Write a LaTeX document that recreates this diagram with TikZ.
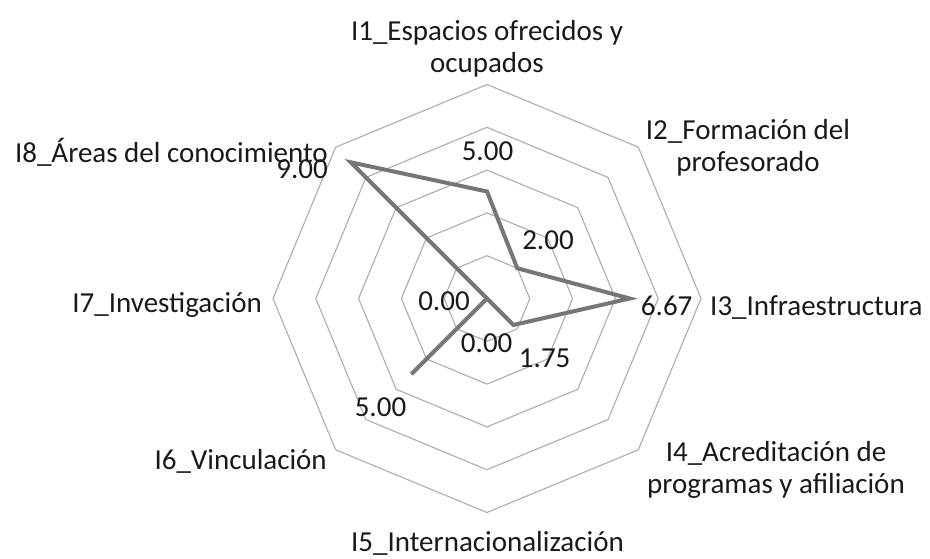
\documentclass[tikz,border=0pt]{standalone}
\usepackage{fontspec}
\setmainfont{Carlito}
\definecolor{gridgray}{RGB}{172,172,172}
\definecolor{linegray}{RGB}{118,118,118}
\definecolor{textgray}{RGB}{25,25,25}

\begin{document}
\begin{tikzpicture}[x=1pt,y=1pt,
                    ring/.style={draw=gridgray,line width=1.1pt},
                    series/.style={draw=linegray,line width=4pt},
                    cat/.style={text=textgray,inner sep=0pt,align=center,
                                font=\fontsize{29}{32}\selectfont},
                    val/.style={text=textgray,inner sep=0pt,anchor=base,
                                font=\fontsize{29}{32}\selectfont}]

  \useasboundingbox (-487,-259.5) rectangle (443,298.5);

  % rings at 2, 4, 6, 8, 10
  \foreach \r in {1,...,5}
    \draw[ring] (0:\r*42.8) \foreach \a in {45,90,...,315}{ -- (\a:\r*42.8)} -- cycle;

  % values
  \coordinate (p1) at (90:5*21.4);
  \coordinate (p2) at (45:2*21.4);
  \coordinate (p3) at (0:6.67*21.4);
  \coordinate (p4) at (-45:1.75*21.4);
  \coordinate (p5) at (0,0);
  \coordinate (p6) at (-135:5*21.4);
  \coordinate (p7) at (0,0);
  \coordinate (p8) at (135:9*21.4);

  \draw[series] (p1) -- (p2) -- (p3) -- (p4) -- (p5) -- (p6) -- (p7) -- (p8) -- cycle;

  \node[val] (v1) at (0.5,138.5) {5.00};
  \node[val] (v2) at (61,49) {2.00};
  \node[val] (v3) at (179.7,-16.5) {6.67};
  \node[val] (v4) at (57.7,-69) {1.75};
  \node[val] (v5) at (-0.3,-54) {0.00};
  \node[val] (v6) at (-106.5,-118) {5.00};
  \node[val] (v7) at (-43,-12) {0.00};
  \node[val,anchor=base east] (v8) at (-159,120.5) {9.00};

  % category names (base = last line)
  \node[cat,anchor=base] (I1) at (0,226.5) {I1\_Espacios ofrecidos y\\ocupados};
  \node[cat,anchor=base] (I2) at (261,127.5) {I2\_Formación del\\profesorado};
  \node[cat,anchor=base west] (I3) at (223,-16.5) {I3\_Infraestructura};
  \node[cat,anchor=base] (I4) at (289,-194.5) {I4\_Acreditación de\\programas y afiliación};
  \node[cat,anchor=base] (I5) at (0.5,-253) {I5\_Internacionalización};
  \node[cat,anchor=base east] (I6) at (-160,-170.5) {I6\_Vinculación};
  \node[cat,anchor=base east] (I7) at (-225,-13.5) {I7\_Investigación};
  \node[cat,anchor=base east] (I8) at (-159,136.5) {I8\_Áreas del conocimiento};
\end{tikzpicture}
\end{document}
